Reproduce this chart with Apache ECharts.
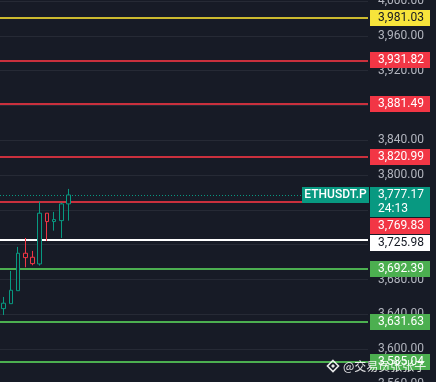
<!DOCTYPE html>
<html><head><meta charset="utf-8">
<script src="https://cdn.jsdelivr.net/npm/echarts@6/dist/echarts.min.js"></script>
<style>html,body{margin:0;padding:0;background:#171b26;overflow:hidden}#c{width:436px;height:382px;}</style>
</head><body><div id="c"></div>
<script>
// ---- data ----
const categories = ['1','2','3','4','5','6','7','8','9','10'];
const opens  = [3646.6, 3652.3, 3667.2, 3710.2, 3705.6, 3697.9, 3756.2, 3746.6, 3747.7, 3766.9];
const closes = [3652.8, 3667.7, 3710.2, 3705.2, 3698.3, 3756.2, 3746.6, 3748.9, 3766.9, 3777.17];
const lows   = [3639.3, 3652.3, 3667.2, 3694.1, 3696.4, 3696.0, 3724.4, 3736.2, 3727.8, 3747.7];
const highs  = [3660.0, 3689.9, 3717.5, 3727.8, 3712.9, 3769.5, 3756.2, 3757.7, 3768.4, 3784.1];
const levelValues = [3981.03, 3931.82, 3881.49, 3820.99, 3769.83, 3725.98, 3692.39, 3631.63, 3585.04];
const levelKinds  = ['yellow','red','red','red','red','white','green','green','green'];
const lastPrice = 3777.17;
const countdown = '24:13';
const symbolName = 'ETHUSDT.P';
const yMin = 3560, yMax = 4000, yInterval = 40;
const timeDividers = [10, 34];
const watermarkText = '@交易员张张子';

// ---- styles ----
const BG = '#171b26';
const UP = '#089981', DOWN = '#f23645';
const kindStyle = {
  yellow: {line:'#cbb92f', bg:'#f7e43b', fg:'#131722'},
  red:    {line:'#c9303d', bg:'#f23645', fg:'#ffffff'},
  white:  {line:'#ffffff', bg:'#ffffff', fg:'#131722'},
  green:  {line:'#4caf50', bg:'#4caf50', fg:'#ffffff'}
};
const FONT = 'Roboto, "Liberation Sans", sans-serif';

function fmt(v){
  const s = v.toFixed(2); const [i,d] = s.split('.');
  return i.replace(/\B(?=(\d{3})+(?!\d))/g, ',') + '.' + d;
}

const candleData = categories.map((c,i)=>[opens[i], closes[i], lows[i], highs[i]]);

const chart = echarts.init(document.getElementById('c'), null, {renderer:'canvas'});
const option = {
  backgroundColor: BG,
  animation: false,
  grid: {left:0, right:68, top:1, height:383, containLabel:false, outerBoundsMode:'none'},
  xAxis: {
    type:'category', data: categories, max: 50, boundaryGap: true,
    axisLine:{show:false}, axisTick:{show:false}, axisLabel:{show:false}, splitLine:{show:false}
  },
  yAxis: {
    type:'value', position:'right', min:yMin, max:yMax, interval:yInterval,
    axisLine:{show:false}, axisTick:{show:false},
    axisLabel:{show:true, margin:10, color:'#b2b5be', fontSize:12, fontFamily:FONT,
      formatter: v => fmt(v), showMinLabel:true, showMaxLabel:true},
    splitLine:{show:true, lineStyle:{color:'#262a35', width:1}}
  },
  series: [
    {
      type:'line', data:[], z:1, silent:true,
      markLine:{silent:true, symbol:['none','none'], label:{show:false},
        lineStyle:{color:'#262a35', width:1, type:'solid'},
        data: timeDividers.map(x=>({xAxis:x}))}
    },
    {
      type:'candlestick', data: candleData, z:3, barWidth:4,
      itemStyle:{color:BG, color0:BG, borderColor:UP, borderColor0:DOWN, borderWidth:1},
      markLine:{silent:true, symbol:['none','none'], label:{show:false}, z:2,
        data: levelValues.map((v,i)=>({yAxis:v, lineStyle:{color:kindStyle[levelKinds[i]].line, width:2, type:'solid'}}))
          .concat([{yAxis:lastPrice, lineStyle:{color:UP, width:1, type:[1,2]}}])}
    }
  ]
};
chart.setOption(option);

// ---- right-side price labels ----
const px = v => chart.convertToPixel({yAxisIndex:0}, v);
const items = levelValues.map((v,i)=>({v, y:px(v), h:16, bg:kindStyle[levelKinds[i]].bg, fg:kindStyle[levelKinds[i]].fg, lines:[fmt(v)]}));
items.push({v:lastPrice, y:px(lastPrice), h:30, bg:UP, fg:'#ffffff', lines:[fmt(lastPrice), countdown], current:true});
items.sort((a,b)=>a.y-b.y);
const graphics = [];
let prevBottom = -100;
items.forEach(it=>{
  let top = Math.round(Math.max(it.y - 8, prevBottom + 1));
  prevBottom = top + it.h;
  graphics.push({type:'rect', z:100, shape:{x:370, y:top, width:60, height:it.h}, style:{fill:it.bg}});
  it.lines.forEach((t,k)=>{
    graphics.push({type:'text', z:101, style:{x:378, y:top + 8 + k*14, text:t, fill:it.fg,
      font:'12px '+FONT, textAlign:'left', textVerticalAlign:'middle'}});
  });
  if(it.current){
    graphics.push({type:'rect', z:100, shape:{x:302, y:top, width:67, height:16}, style:{fill:UP}});
    graphics.push({type:'text', z:101, style:{x:335.5, y:top+8, text:symbolName, fill:'#ffffff',
      font:'500 12px '+FONT, textAlign:'center', textVerticalAlign:'middle'}});
  }
});
// watermark
graphics.push({type:'group', z:200, x:333, y:366, children:[
  {type:'polygon', z:200, shape:{points:[[0,-5.5],[5.5,0],[0,5.5],[-5.5,0]]}, style:{fill:'none', stroke:'rgba(255,255,255,0.9)', lineWidth:1.6}},
  {type:'polygon', z:200, shape:{points:[[0,-2],[2,0],[0,2],[-2,0]]}, style:{fill:'rgba(255,255,255,0.9)'}}
]});
graphics.push({type:'text', z:200, style:{x:343, y:366, text:watermarkText, fill:'rgba(255,255,255,0.88)',
  font:'12px "Noto Sans CJK SC", sans-serif', textAlign:'left', textVerticalAlign:'middle'}});
chart.setOption({graphic: graphics});
</script>
</body></html>
